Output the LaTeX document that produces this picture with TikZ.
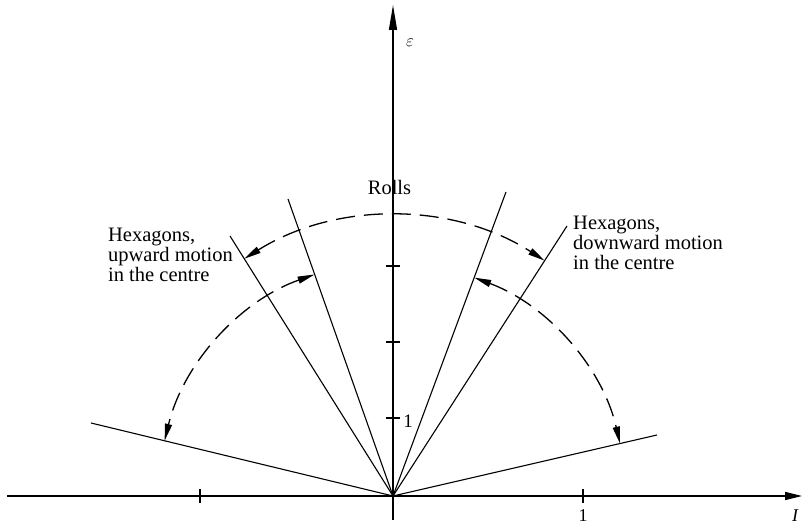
\documentclass[tikz,border=0pt]{standalone}
\usepackage{fontspec}
\setmainfont{Liberation Serif}
\usetikzlibrary{arrows.meta}
\begin{document}
\begin{tikzpicture}[x=1pt,y=1pt,
  axis/.style={line width=1.4pt},
  ray/.style={line width=1.1pt},
  tickmark/.style={line width=1.2pt},
  motion/.style={line width=1.3pt, dash pattern=on 19pt off 9pt,
     {Triangle[length=17pt,width=7pt]}-{Triangle[length=17pt,width=7pt]}},
  lbl/.style={font=\fontsize{20.5}{20}\selectfont, align=left, inner sep=0pt}]
\useasboundingbox (-393,-30) rectangle (410,496);
\coordinate (O) at (0,0);
% axes
\coordinate (xs) at (-386,0);
\coordinate (xe) at (409,0);
\coordinate (ys) at (0,-24);
\coordinate (ye) at (0,491);
\draw[axis,-{Triangle[length=17pt,width=8pt]}] (xs) -- (xe);
\draw[axis,-{Triangle[length=25pt,width=8pt]}] (ys) -- (ye);
% ticks
\foreach \x in {-193,190} \draw[tickmark] (\x,-7) -- (\x,7);
\foreach \y in {78,154,230} \draw[tickmark] (-7,\y) -- (7,\y);
% rays
\coordinate (L1) at (-302,73);
\coordinate (L2) at (-163,260);
\coordinate (L3) at (-105,297);
\coordinate (R1) at (264,61);
\coordinate (R2) at (174,270);
\coordinate (R3) at (113,304);
\foreach \p in {L1,L2,L3,R1,R2,R3} \draw[ray] (O) -- (\p);
% arcs
\draw[motion] (122.1:280) arc[start angle=122.1, end angle=57.2, radius=280];
\draw[motion] (109.5:235) arc[start angle=109.5, end angle=166.4, radius=235];
\draw[motion] (69.6:233) arc[start angle=69.6, end angle=13.0, radius=233];
% labels
\node[lbl, anchor=base west] (tl) at (-285,214) {Hexagons,\\upward motion\\in the centre};
\node[lbl, anchor=base west] (tr) at (180,226) {Hexagons,\\downward motion\\in the centre};
\node[lbl, anchor=base] (rolls) at (-3.5,301) {Rolls};
\node[font=\fontsize{17}{17}\selectfont, inner sep=0pt] (eps) at (17,453) {$\varepsilon$};
\node[font=\fontsize{19}{19}\selectfont, inner sep=0pt] (one1) at (15,75) {1};
\node[font=\fontsize{18}{18}\selectfont, inner sep=0pt] (one2) at (190,-20) {1};
\node[font=\fontsize{18}{18}\selectfont\itshape, inner sep=0pt] (ilab) at (402,-20) {I};
\end{tikzpicture}
\end{document}
